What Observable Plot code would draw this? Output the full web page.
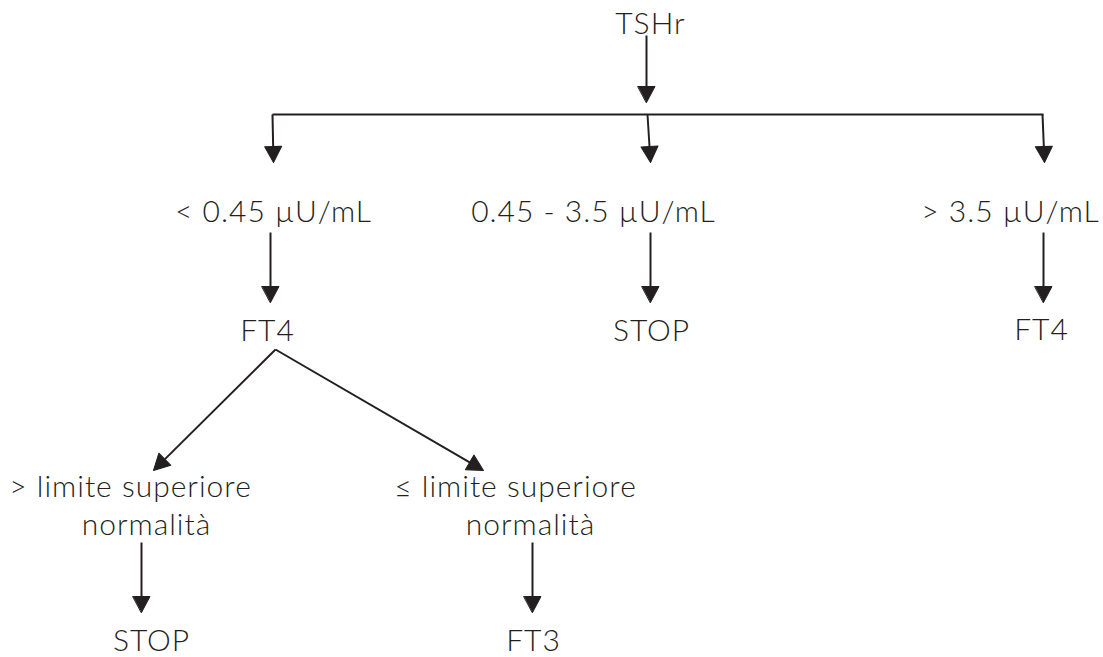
<!DOCTYPE html>
<html>
<head>
<meta charset="utf-8">
<script src="https://cdn.jsdelivr.net/npm/d3@7"></script>
<script src="https://cdn.jsdelivr.net/npm/@observablehq/plot@0.6"></script>
<style>
  html, body { margin: 0; padding: 0; background: #fff; }
  #chart svg { display: block; }
  #chart svg text { letter-spacing: 1px; }
</style>
</head>
<body>
<div id="chart"></div>
<script>
// Diagram node labels (one entry per text line) and their diagram positions
const labelText = ["TSHr", "< 0.45 µU/mL", "0.45 - 3.5 µU/mL", "> 3.5 µU/mL", "FT4", "STOP", "FT4",
  "> limite superiore", "normalità", "≤ limite superiore", "normalità", "STOP", "FT3"];
const labelX = [650, 273, 593, 1010, 267, 651, 1041, 130, 146, 515, 530, 151, 533];
const labelY = [33, 221, 221, 221, 340, 340, 339, 496, 534, 496, 534, 650, 650];

// Connector bar (no head)
const barX = [272, 1043];
const barY = [114, 114];

// Arrows: start and tip points in diagram units
const arrowX1 = [646, 272, 647, 1042, 270, 650, 1043, 275, 275, 141, 532];
const arrowY1 = [35, 114, 114, 114, 232, 232, 232, 349, 349, 542, 542];
const arrowX2 = [646, 273, 650, 1044, 270, 650, 1043, 153, 483, 141, 532];
const arrowY2 = [102, 162, 162, 162, 302, 302, 302, 470, 470, 612, 612];

const W = 1103, H = 657;
const ink = "#231f20";
const font = "Lato, 'Open Sans', sans-serif";

const labels = labelText.map((t, i) => ({text: t, x: labelX[i], y: labelY[i]}));
const arrows = arrowX1.map((x1, i) => ({
  x1, y1: arrowY1[i], x2: arrowX2[i], y2: arrowY2[i],
  angle: Math.atan2(arrowX2[i] - x1, -(arrowY2[i] - arrowY1[i])) * 180 / Math.PI
}));
const bar = [{x1: barX[0], y1: barY[0], x2: barX[1], y2: barY[1]}];

const headLen = 16, headHalf = 8.5;
const triangleHead = {
  draw(context, l, r) {
    context.moveTo(0, -l);
    context.lineTo(-r, 0);
    context.lineTo(r, 0);
    context.closePath();
  }
};

const chart = Plot.plot({
  width: W,
  height: H,
  margin: 0,
  x: {domain: [0, W], range: [0, W], axis: null},
  y: {domain: [0, H], range: [0, H], axis: null},
  style: {background: "#fff", fontFamily: font},
  marks: [
    Plot.link(bar, {x1: "x1", y1: "y1", x2: "x2", y2: "y2", stroke: ink, strokeWidth: 2}),
    Plot.link(arrows, {
      x1: "x1", y1: "y1",
      x2: d => d.x2 - (headLen - 2) * Math.sin(d.angle * Math.PI / 180),
      y2: d => d.y2 + (headLen - 2) * Math.cos(d.angle * Math.PI / 180),
      stroke: ink, strokeWidth: 2
    }),
    Plot.vector(arrows, {
      x: "x2", y: "y2", rotate: "angle", length: headLen, r: headHalf,
      anchor: "end", shape: triangleHead, fill: ink, stroke: ink, strokeWidth: 1
    }),
    Plot.text(labels, {
      x: "x", y: "y", text: "text", textAnchor: "middle", lineAnchor: "bottom",
      fontSize: 30, fontWeight: 300, fill: ink, fontFamily: font
    })
  ]
});
document.getElementById("chart").appendChild(chart);
</script>
</body>
</html>
